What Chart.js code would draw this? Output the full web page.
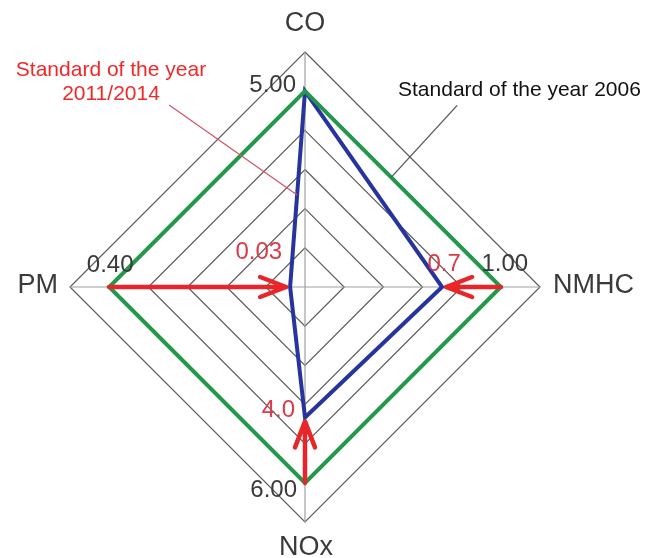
<!DOCTYPE html>
<html>
<head>
<meta charset="utf-8">
<script src="https://cdn.jsdelivr.net/npm/chart.js@4.4.1/dist/chart.umd.min.js"></script>
<style>
  html, body { margin: 0; padding: 0; background: #ffffff; }
  #wrap { width: 659px; height: 558px; position: relative; }
</style>
</head>
<body>
<div id="wrap"><canvas id="radarChart"></canvas></div>
<script>
"use strict";

// axes, clockwise from the top
var axisLabels = ["CO", "NMHC", "NOx", "PM"];
// limit values written next to each axis
var limits2006 = ["5.00", "1.00", "6.00", "0.40"];
var limits2011 = ["", "0.7", "4.0", "0.03"];
// plotted positions on the ring scale (2006 limit sits on ring 5)
var values2006 = [5, 5, 5, 5];
var values2011 = [5, 3.5, 3.33, 0.38];
// ring ticks
var ringTicks = [0, 1, 2, 3, 4, 5, 6];

var green = "#23984a";
var blue = "#27349e";
var red = "#e8262a";
var labelRed = "#dc3a48";
var FONT = "'Liberation Sans', Arial, sans-serif";

document.addEventListener("DOMContentLoaded", function () {

    // text drawn with its caps centred on y
    function centredText(ctx, text, x, y, size, align, color) {
        ctx.font = size + "px " + FONT;
        ctx.fillStyle = color;
        ctx.textAlign = align;
        ctx.textBaseline = "alphabetic";
        ctx.fillText(text, x, y + size * 0.36);
    }

    function arrow(ctx, from, to) {
        var ang = Math.atan2(to.y - from.y, to.x - from.x);
        var cos = Math.cos(ang), sin = Math.sin(ang);
        var tip = { x: to.x - 4 * cos, y: to.y - 4 * sin };
        var len = 26, half = 10;
        ctx.save();
        ctx.strokeStyle = red;
        ctx.lineWidth = 4.5;
        ctx.lineCap = "round";
        ctx.lineJoin = "round";
        ctx.beginPath();
        ctx.moveTo(from.x, from.y);
        ctx.lineTo(tip.x, tip.y);
        ctx.moveTo(tip.x - len * cos + half * sin, tip.y - len * sin - half * cos);
        ctx.lineTo(tip.x, tip.y);
        ctx.lineTo(tip.x - len * cos - half * sin, tip.y - len * sin + half * cos);
        ctx.stroke();
        ctx.restore();
    }

    function lerp(a, b, t) {
        return { x: a.x + (b.x - a.x) * t, y: a.y + (b.y - a.y) * t };
    }

    // offsets of the value texts from their vertex
    var offs2006 = [[-9, -8, "right"], [4, -25, "center"], [-8, 6, "right"], [1, -24, "center"]];
    var offs2011 = [[0, 0, "center"], [2, -25, "center"], [-10, -9, "right"], [-8, -37, "right"]];
    // axis name offsets from the outer ring
    var axisOffs = [[0, -31, "center"], [13, -4, "left"], [1, 23, "center"], [-12, -4, "right"]];

    var annotations = {
        id: "annotations",
        afterDatasetsDraw: function (chart) {
            var ctx = chart.ctx;
            var r = chart.scales.r;
            var top = ringTicks[ringTicks.length - 1];
            var i, p, q, o;

            // arrows from the 2006 limit down to the 2011/2014 limit
            for (i = 0; i < axisLabels.length; i++) {
                if (values2011[i] !== values2006[i]) {
                    p = r.getPointPositionForValue(i, values2006[i]);
                    q = r.getPointPositionForValue(i, values2011[i]);
                    arrow(ctx, p, q);
                }
            }

            // value texts
            for (i = 0; i < axisLabels.length; i++) {
                p = r.getPointPositionForValue(i, values2006[i]);
                o = offs2006[i];
                centredText(ctx, limits2006[i], p.x + o[0], p.y + o[1], 24, o[2], "#3a3a3a");
                if (limits2011[i]) {
                    q = r.getPointPositionForValue(i, values2011[i]);
                    o = offs2011[i];
                    centredText(ctx, limits2011[i], q.x + o[0], q.y + o[1], 24, o[2], labelRed);
                }
            }

            // axis names
            for (i = 0; i < axisLabels.length; i++) {
                p = r.getPointPositionForValue(i, top);
                o = axisOffs[i];
                centredText(ctx, axisLabels[i], p.x + o[0], p.y + o[1], 27, o[2], "#3a3a3a");
            }

            // leader lines
            var redEnd = lerp(r.getPointPositionForValue(0, values2011[0]),
                              r.getPointPositionForValue(3, values2011[3]), 0.53);
            var blackEnd = lerp(r.getPointPositionForValue(0, values2006[0]),
                                r.getPointPositionForValue(1, values2006[1]), 0.44);
            ctx.save();
            ctx.lineWidth = 1.3;
            ctx.strokeStyle = "#d4566a";
            ctx.beginPath();
            ctx.moveTo(redEnd.x - 128, redEnd.y - 90);
            ctx.lineTo(redEnd.x, redEnd.y);
            ctx.stroke();
            ctx.strokeStyle = "#555555";
            ctx.beginPath();
            ctx.moveTo(blackEnd.x + 66, blackEnd.y - 72);
            ctx.lineTo(blackEnd.x, blackEnd.y);
            ctx.stroke();
            ctx.restore();

            // series captions
            ctx.font = "21px " + FONT;
            ctx.textBaseline = "alphabetic";
            ctx.fillStyle = "#f02828";
            ctx.textAlign = "center";
            ctx.fillText("Standard of the year", 111, 76);
            ctx.fillText("2011/2014", 111, 100);
            ctx.fillStyle = "#111111";
            ctx.textAlign = "left";
            ctx.fillText("Standard of the year 2006", 398, 96);
        }
    };

    var RADAR = document.getElementById("radarChart");
    var myRadarChart = new Chart(RADAR, {
        type: "radar",
        plugins: [annotations],
        data: {
            labels: axisLabels,
            datasets: [
                {
                    label: "Standard of the year 2006",
                    data: values2006,
                    borderColor: green,
                    backgroundColor: "transparent",
                    borderWidth: 4,
                    borderJoinStyle: "miter",
                    fill: false,
                    tension: 0,
                    pointRadius: 0
                },
                {
                    label: "Standard of the year 2011/2014",
                    data: values2011,
                    borderColor: blue,
                    backgroundColor: "transparent",
                    borderWidth: 4,
                    borderJoinStyle: "miter",
                    fill: false,
                    tension: 0,
                    pointRadius: 0
                }
            ]
        },
        options: {
            responsive: true,
            maintainAspectRatio: false,
            animation: false,
            layout: {
                padding: { left: 70, right: 119, top: 52, bottom: 36 }
            },
            plugins: {
                legend: { display: false },
                tooltip: { enabled: false }
            },
            scales: {
                r: {
                    min: ringTicks[0],
                    max: ringTicks[ringTicks.length - 1],
                    ticks: { stepSize: 1, display: false },
                    grid: { color: "#5a5a5a", lineWidth: 1.2 },
                    angleLines: { color: "#a0a0a0", lineWidth: 1.2 },
                    pointLabels: { display: false }
                }
            }
        }
    });
});
</script>
</body>
</html>
